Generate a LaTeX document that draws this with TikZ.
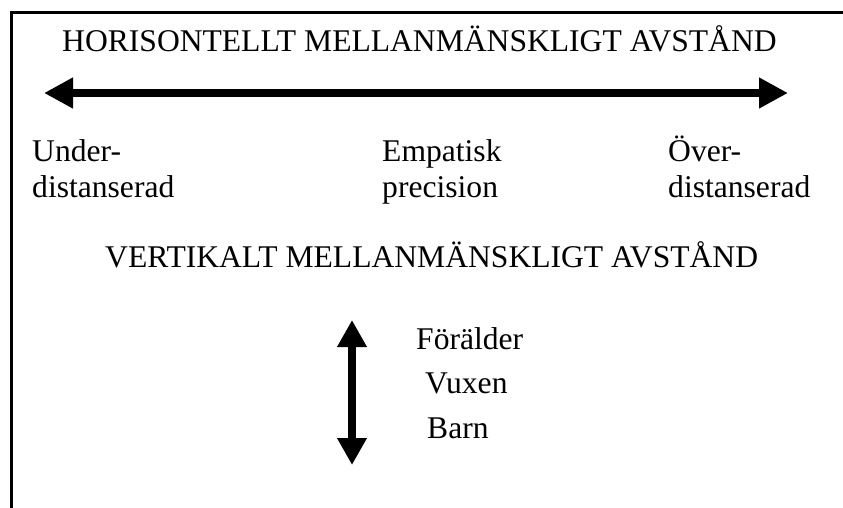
\documentclass[tikz,border=0pt]{standalone}
\usepackage{fontspec}
\setmainfont{Liberation Serif}
\usetikzlibrary{arrows.meta}
\begin{document}
\begin{tikzpicture}[x=1pt,y=-1pt,
  lbl/.style={anchor=base west,inner sep=0pt,font=\fontsize{31.6}{36}\selectfont},
  frame/.style={line width=3pt},
  bigarrow/.style={line width=8pt,{Triangle[length=29pt,width=29pt]}-{Triangle[length=29pt,width=29pt]}}]
\useasboundingbox (0,0) rectangle (843,508);
\fill[white] (0,0) rectangle (843,508);
\draw[frame] (11.5,520) -- (11.5,12.5) -- (850,12.5);
\node[lbl] (title) at (62,52) {HORISONTELLT MELLANMÄNSKLIGT AVSTÅND};
\coordinate (hl) at (44,93);
\coordinate (hr) at (788,93);
\draw[bigarrow] (hl) -- (hr);
\node[lbl] (u1) at (32,161) {Under-};
\node[lbl] (u2) at (32,197) {distanserad};
\node[lbl] (e1) at (382,161) {Empatisk};
\node[lbl] (e2) at (382,197) {precision};
\node[lbl] (o1) at (668,161) {Över-};
\node[lbl] (o2) at (668,197) {distanserad};
\node[lbl] (vt) at (105,267) {VERTIKALT MELLANMÄNSKLIGT AVSTÅND};
\coordinate (vtop) at (352,320);
\coordinate (vbot) at (352,465);
\draw[bigarrow,{Triangle[length=27pt,width=28pt]}-{Triangle[length=27pt,width=28pt]}] (vtop) -- (vbot);
\node[lbl] (f) at (416,349) {Förälder};
\node[lbl] (v) at (425,393) {Vuxen};
\node[lbl] (b) at (427,438) {Barn};
\end{tikzpicture}
\end{document}
